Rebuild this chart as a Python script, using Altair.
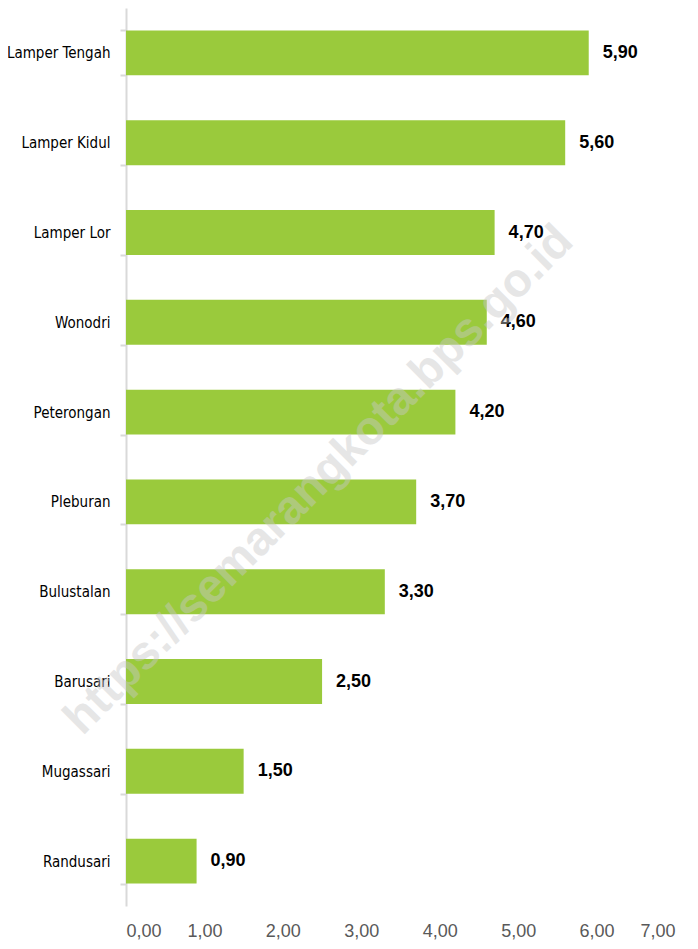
import altair as alt
import pandas as pd

categories = ["Lamper Tengah", "Lamper Kidul", "Lamper Lor", "Wonodri", "Peterongan",
              "Pleburan", "Bulustalan", "Barusari", "Mugassari", "Randusari"]
values = [5.90, 5.60, 4.70, 4.60, 4.20, 3.70, 3.30, 2.50, 1.50, 0.90]
x_ticks = [0, 1, 2, 3, 4, 5, 6, 7]
watermark = "https://semarangkota.bps.go.id"

df = pd.DataFrame({
    "cat": categories,
    "val": values,
    "label": [f"{v:.2f}".replace(".", ",") for v in values],
})

x_enc = alt.X("val:Q", scale=alt.Scale(domain=[0, 7], nice=False),
              axis=alt.Axis(values=x_ticks, domain=False, ticks=False, grid=False,
                            labelExpr="replace(format(datum.value, '.2f'), '.', ',')",
                            labelFont="Liberation Sans", labelFontSize=18,
                            labelColor="#595959", labelPadding=16, title=None))
y_enc = alt.Y("cat:N", sort=categories,
              scale=alt.Scale(paddingInner=0.5, paddingOuter=0.25),
              axis=alt.Axis(title=None, domainColor="#D9D9D9", domainWidth=2,
                            tickColor="#D9D9D9", tickWidth=2, tickSize=6,
                            tickBand="extent",
                            labelFont="DejaVu Sans Condensed", labelFontSize=15,
                            labelColor="#000000", labelPadding=10))

bars = alt.Chart(df).mark_bar(color="#9ACA3C").encode(x=x_enc, y=y_enc)

text = alt.Chart(df).mark_text(align="left", baseline="middle", dx=14,
                               font="Liberation Sans", fontSize=18, fontWeight="bold",
                               color="#000000").encode(
    x="val:Q", y=alt.Y("cat:N", sort=categories), text="label:N")

wm = alt.Chart(pd.DataFrame({"t": [watermark]})).mark_text(
    angle=315, font="Liberation Sans", fontSize=47, fontWeight="bold",
    color="#C8C8C8", opacity=0.45, align="center", baseline="middle").encode(
    x=alt.value(193), y=alt.value(472), text="t:N")

chart = alt.layer(bars, text, wm).properties(
    width=549, height=898,
    autosize=alt.AutoSizeParams(type="none"),
    padding={"left": 118, "top": 0, "right": 15, "bottom": 35},
).configure_view(stroke=None)

chart.save("out.html", embed_options={"renderer": "svg", "actions": False})
